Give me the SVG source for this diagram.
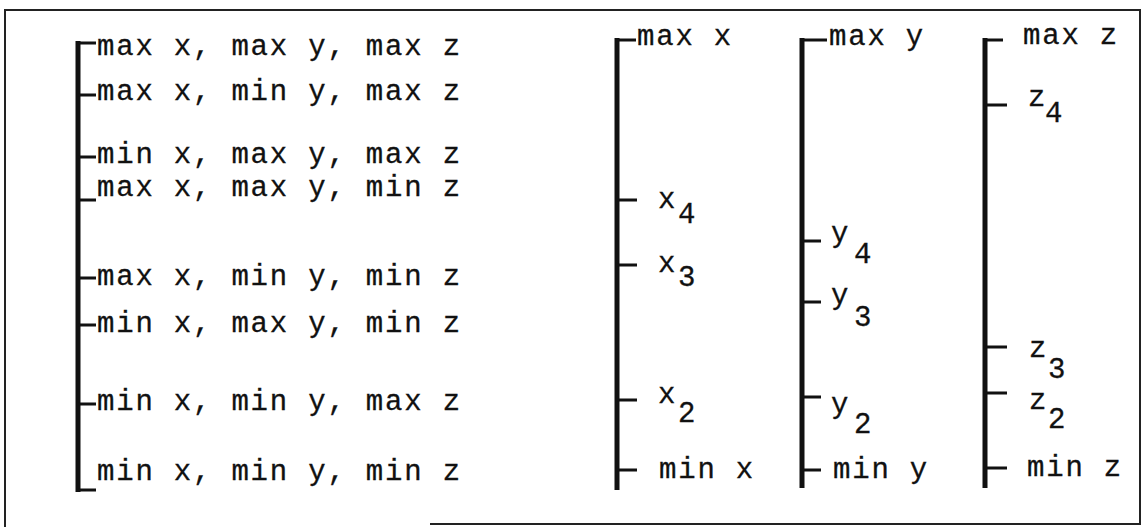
<svg xmlns="http://www.w3.org/2000/svg" width="1143" height="527" viewBox="0 0 1143 527">
  <style>
    .t { font-family: "Liberation Mono", "DejaVu Sans Mono", monospace; font-size: 29px; letter-spacing: 1.8px; fill: #111; stroke: #111; stroke-width: 0.3; }
    .bar { stroke: #111; stroke-width: 5; fill: none; }
    .tick { stroke: #111; stroke-width: 3; fill: none; }
    .frame { stroke: #222; stroke-width: 2; fill: none; }
  </style>
  <rect width="1143" height="527" fill="#fff"/>

  <!-- outer frame -->
  <path class="frame" d="M5,527 V10 H1140 V524 H430"/>

  <g id="connectors">
    <!-- corner list scale -->
    <path class="bar" d="M78,41 V492"/>
    <path class="tick" d="M78,43 H96 M78,95 H96 M78,157 H96 M78,200 H96 M78,278 H96 M78,325 H96 M78,404 H96 M78,490 H96"/>
    <!-- x scale -->
    <path class="bar" d="M617,38 V490"/>
    <path class="tick" d="M617,40 H636 M617,200 H637 M617,265 H637 M617,400 H637 M617,470 H637"/>
    <!-- y scale -->
    <path class="bar" d="M802,38 V488"/>
    <path class="tick" d="M802,40 H827 M802,241 H821 M802,302 H821 M802,397 H821 M802,470 H821"/>
    <!-- z scale -->
    <path class="bar" d="M985,38 V488"/>
    <path class="tick" d="M985,40 H1003 M985,105 H1007 M985,347 H1007 M985,393 H1007 M985,468 H1007"/>
  </g>

  <g id="corners">
    <text class="t" x="97" y="55">max x, max y, max z</text>
    <text class="t" x="97" y="100">max x, min y, max z</text>
    <text class="t" x="97" y="163">min x, max y, max z</text>
    <text class="t" x="97" y="196">max x, max y, min z</text>
    <text class="t" x="97" y="285">max x, min y, min z</text>
    <text class="t" x="97" y="332">min x, max y, min z</text>
    <text class="t" x="97" y="410">min x, min y, max z</text>
    <text class="t" x="97" y="480">min x, min y, min z</text>
  </g>

  <g id="x-scale">
    <text class="t" x="637" y="45">max x</text>
    <text class="t" x="658" y="208">x<tspan x="678" y="223">4</tspan></text>
    <text class="t" x="658" y="272">x<tspan x="678" y="286">3</tspan></text>
    <text class="t" x="658" y="403">x<tspan x="678" y="422">2</tspan></text>
    <text class="t" x="659" y="478">min x</text>
  </g>

  <g id="y-scale">
    <text class="t" x="829" y="45">max y</text>
    <text class="t" x="831" y="242">y<tspan x="854" y="263">4</tspan></text>
    <text class="t" x="831" y="304">y<tspan x="854" y="326">3</tspan></text>
    <text class="t" x="831" y="413">y<tspan x="854" y="433">2</tspan></text>
    <text class="t" x="833" y="478">min y</text>
  </g>

  <g id="z-scale">
    <text class="t" x="1023" y="44">max z</text>
    <text class="t" x="1028" y="106">z<tspan x="1045" y="122">4</tspan></text>
    <text class="t" x="1029" y="357">z<tspan x="1048" y="378">3</tspan></text>
    <text class="t" x="1029" y="409">z<tspan x="1048" y="428">2</tspan></text>
    <text class="t" x="1027" y="476">min z</text>
  </g>
</svg>
